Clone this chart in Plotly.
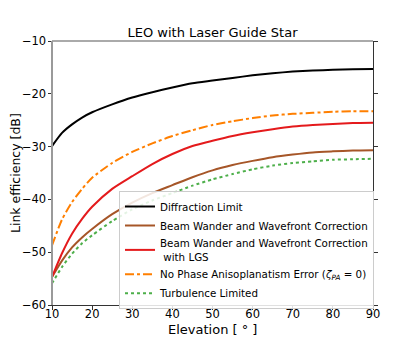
import plotly.graph_objects as go

elevation = [10, 12.5, 15, 17.5, 20, 25, 30, 35, 40, 45, 50, 55, 60, 65, 70, 75, 80, 85, 90]

diffraction_limit = [-29.9, -27.4, -25.8, -24.5, -23.5, -22.0, -20.7, -19.7, -18.8, -18.0,
                     -17.5, -17.0, -16.5, -16.1, -15.8, -15.6, -15.45, -15.35, -15.3]
beam_wander_wfc = [-54.7, -51.6, -49.1, -47.2, -45.6, -42.8, -40.6, -38.8, -37.3, -35.8,
                   -34.5, -33.5, -32.7, -32.0, -31.5, -31.1, -30.9, -30.75, -30.7]
beam_wander_wfc_lgs = [-54.7, -50.2, -46.5, -43.7, -41.4, -38.0, -35.6, -33.3, -31.4, -29.9,
                       -28.9, -28.0, -27.3, -26.7, -26.2, -25.9, -25.7, -25.55, -25.5]
no_pa_error = [-48.7, -43.8, -40.5, -38.0, -35.9, -33.1, -31.0, -29.4, -28.0, -26.9,
               -25.9, -25.2, -24.6, -24.1, -23.8, -23.6, -23.4, -23.3, -23.3]
turbulence_limited = [-55.9, -52.8, -50.3, -48.3, -46.8, -44.1, -41.9, -40.2, -38.8, -37.4,
                      -36.2, -35.2, -34.3, -33.6, -33.1, -32.8, -32.5, -32.4, -32.3]

series_names = [
    "Diffraction Limit",
    "Beam Wander and Wavefront Correction",
    "Beam Wander and Wavefront Correction<br> with LGS",
    "No Phase Anisoplanatism Error (<i>ζ</i><sub><i>PA</i></sub> = 0)",
    "Turbulence Limited",
]
series_values = [diffraction_limit, beam_wander_wfc, beam_wander_wfc_lgs, no_pa_error, turbulence_limited]
series_colors = ["#000000", "#a65628", "#e41a1c", "#ff7f00", "#4daf4a"]
series_dash = ["solid", "solid", "solid", "dashdot", "dot"]

x_ticks = [10, 20, 30, 40, 50, 60, 70, 80, 90]
y_ticks = [-60, -50, -40, -30, -20, -10]

title_text = "LEO with Laser Guide Star"
x_title = "Elevation [ ° ]"
y_title = "Link efficiency [dB]"

FONT = "DejaVu Sans"

W, H = 407, 334
ML, MR, MT, MB = 44, 42, 33, 37
PW, PH = W - ML - MR, H - MT - MB

fig = go.Figure()
for name, vals, col, dash in zip(series_names, series_values, series_colors, series_dash):
    fig.add_trace(go.Scatter(
        x=elevation, y=vals, name=name, mode="lines",
        line=dict(color=col, width=2, dash=dash, shape="spline", smoothing=0.6),
    ))

fig.update_layout(
    width=W, height=H,
    margin=dict(l=ML, r=MR, t=MT, b=MB, pad=0),
    paper_bgcolor="white", plot_bgcolor="white",
    font=dict(family=FONT, color="#000000"),
    title=dict(text=title_text, font=dict(size=13, family=FONT, color="#000"),
               x=0.5, xref="paper", xanchor="center", y=1 - 24 / H, yref="container", yanchor="middle"),
    showlegend=True,
    legend=dict(
        x=67 / PW, y=(PH - 150) / PH, xanchor="left", yanchor="top",
        bgcolor="rgba(255,255,255,0.85)", bordercolor="#cccccc", borderwidth=1,
        font=dict(size=10.3, family=FONT, color="#000"),
        itemwidth=30, tracegroupgap=0,
    ),
    xaxis=dict(
        range=[10, 90], tickvals=x_ticks, ticktext=[str(v) for v in x_ticks],
        showgrid=False, zeroline=False, automargin=False,
        showline=True, linecolor="#333333", linewidth=1, mirror=False,
        ticks="outside", ticklen=3.5, tickwidth=1, tickcolor="#333333",
        ticklabelstandoff=-5,
        tickfont=dict(size=11.5, family=FONT, color="#000"),
    ),
    yaxis=dict(
        range=[-60, -10], tickvals=y_ticks, ticktext=["\u2212" + str(abs(v)) for v in y_ticks],
        showgrid=False, zeroline=False, automargin=False,
        showline=True, linecolor="#333333", linewidth=1, mirror="ticks",
        ticks="outside", ticklen=3.5, tickwidth=1, tickcolor="#333333",
        ticklabelstandoff=-1,
        tickfont=dict(size=11.5, family=FONT, color="#000"),
    ),
    annotations=[
        dict(text=x_title, xref="paper", yref="paper", x=0.5, y=-(321 - 297) / PH,
             xanchor="center", yanchor="middle", showarrow=False,
             font=dict(size=13, family=FONT, color="#000")),
        dict(text=y_title, xref="paper", yref="paper", x=(7 - ML) / PW, y=0.5,
             xanchor="center", yanchor="middle", textangle=-90, showarrow=False,
             font=dict(size=12.5, family=FONT, color="#000")),
    ],
    shapes=[
        dict(type="line", xref="paper", yref="paper", x0=0, x1=1, y0=1, y1=1,
             line=dict(color="#aaaaaa", width=2), layer="above"),
        dict(type="line", xref="paper", yref="paper", x0=0, x1=0, y0=0, y1=1,
             line=dict(color="#9a9a9a", width=2), layer="above"),
    ],
)

fig.write_html("out.html")
